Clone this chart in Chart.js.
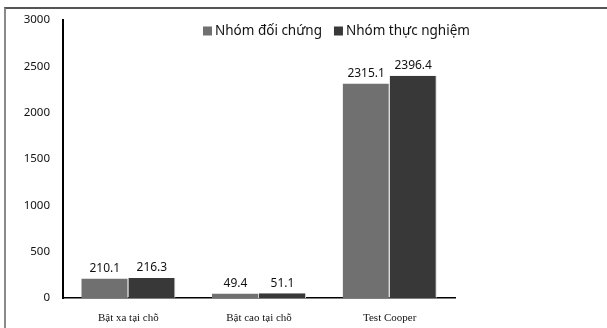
<!DOCTYPE html>
<html>
<head>
<meta charset="utf-8">
<script src="https://cdn.jsdelivr.net/npm/chart.js@4"></script>
<style>
  html, body { margin: 0; padding: 0; background: #fff; }
  #wrap { position: relative; width: 607px; height: 328px; }
  #frame { position: absolute; left: 4px; top: 7px; right: 0; bottom: 0;
           border-top: 2px solid #555; border-left: 2px solid #8a8a8a; }
  canvas { position: absolute; left: 0; top: 0; }
</style>
</head>
<body>
<div id="wrap">
  <div id="frame"></div>
  <canvas id="chart" width="607" height="328"></canvas>
</div>
<script>
const categories = ['Bật xa tại chỗ', 'Bật cao tại chỗ', 'Test Cooper'];
const controlGroup = [210.1, 49.4, 2315.1];
const experimentGroup = [216.3, 51.1, 2396.4];
const seriesNames = ['Nhóm đối chứng', 'Nhóm thực nghiệm'];
const yTicks = [0, 500, 1000, 1500, 2000, 2500, 3000];

const sansFont = '"Noto Sans", "Open Sans", sans-serif';

// Writes each bar's value just above it
const valueLabels = {
  id: 'valueLabels',
  afterDatasetsDraw(chart) {
    const ctx = chart.ctx;
    ctx.save();
    ctx.font = '12px ' + sansFont;
    ctx.fillStyle = '#111';
    ctx.textAlign = 'center';
    ctx.textBaseline = 'bottom';
    chart.data.datasets.forEach((ds, i) => {
      chart.getDatasetMeta(i).data.forEach((bar, j) => {
        ctx.fillText(ds.data[j].toFixed(1), bar.x, bar.y - 4);
      });
    });
    ctx.restore();
  }
};

// Legend row drawn inside the plot, near the top
const insideLegend = {
  id: 'insideLegend',
  afterDraw(chart) {
    const ctx = chart.ctx;
    ctx.save();
    ctx.font = '13.5px ' + sansFont;
    ctx.textBaseline = 'middle';
    let x = 203;
    const y = 31;
    chart.data.datasets.forEach((ds) => {
      ctx.fillStyle = ds.backgroundColor;
      ctx.fillRect(x, y - 4.5, 9, 9);
      ctx.fillStyle = '#111';
      ctx.fillText(ds.label, x + 12, y);
      x += 12 + ctx.measureText(ds.label).width + 12;
    });
    ctx.restore();
  }
};

new Chart(document.getElementById('chart'), {
  type: 'bar',
  data: {
    labels: categories,
    datasets: [
      { label: seriesNames[0], data: controlGroup, backgroundColor: '#707070',
        borderColor: '#d0d0d0', borderWidth: { right: 1 } },
      { label: seriesNames[1], data: experimentGroup, backgroundColor: '#383838',
        borderColor: '#d0d0d0', borderWidth: { right: 1 } }
    ]
  },
  options: {
    responsive: false,
    animation: false,
    layout: { padding: { left: 0, right: 152, top: 19, bottom: 0 } },
    datasets: { bar: { categoryPercentage: 0.72, barPercentage: 1 } },
    plugins: {
      legend: { display: false },
      tooltip: { enabled: false }
    },
    scales: {
      x: {
        afterFit(scale) { scale.height = 30; },
        grid: { display: false, drawTicks: false },
        border: { display: true, color: '#000', width: 1.5 },
        ticks: {
          padding: 14,
          color: '#111',
          font: { family: '"Liberation Serif", "Times New Roman", serif', size: 11 }
        }
      },
      y: {
        min: 0,
        max: 3000,
        afterBuildTicks(scale) { scale.ticks = yTicks.map(v => ({ value: v })); },
        afterFit(scale) { scale.width = 63; },
        grid: { display: false, drawTicks: false },
        border: { display: true, color: '#000', width: 2 },
        ticks: {
          padding: 13,
          color: '#111',
          font: { family: sansFont, size: 11.5 },
          callback: (v) => String(v)
        }
      }
    }
  },
  plugins: [valueLabels, insideLegend]
});
</script>
</body>
</html>
